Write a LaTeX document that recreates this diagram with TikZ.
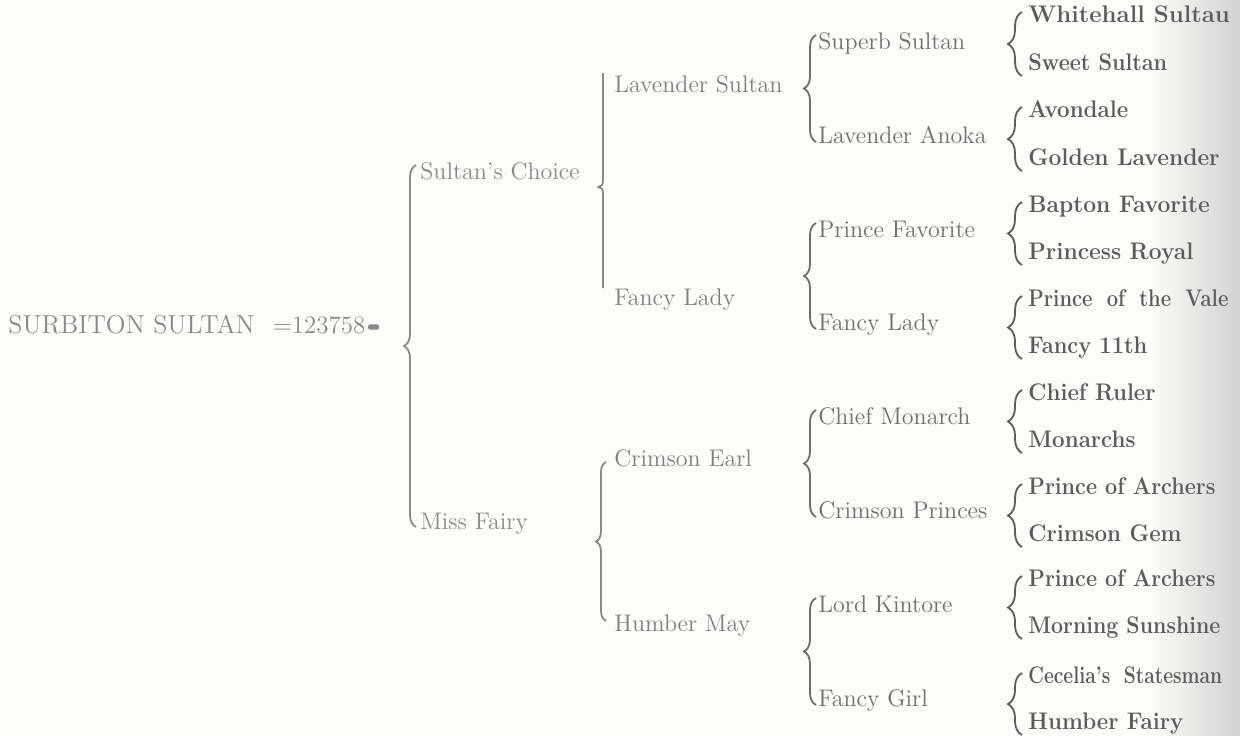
\documentclass[tikz,border=0pt]{standalone}
\usepackage{tikz}
\usepackage{graphicx}
\usepackage{xcolor}
\usetikzlibrary{positioning,decorations.pathreplacing,calc}
\definecolor{paper}{RGB}{252,252,250}
\definecolor{fadeink}{RGB}{138,138,138}
\definecolor{midink}{RGB}{110,110,110}
\definecolor{darkink}{RGB}{92,92,92}

\tikzset{
  kinname/.style={anchor=west,inner sep=0pt,text height=8.5pt,text depth=2.5pt,
    font=\fontsize{12}{14}\selectfont},
  genone/.style={kinname,text=fadeink},
  gentwo/.style={kinname,text=fadeink!92!black},
  genthree/.style={kinname,text=midink},
  genfour/.style={kinname,text=darkink,font=\fontsize{12}{14}\selectfont\bfseries},
  kinbrace/.style={decorate,decoration={brace,amplitude=#1},line width=0.9pt},
  kinbrace/.default=6pt,
  kinbar/.style={line width=0.9pt,line join=round}
}

\begin{document}
\begin{tikzpicture}[x=0.5pt,y=-0.5pt]
  % page
  \useasboundingbox (0,0) rectangle (1240,735);
  \fill[paper] (0,0) rectangle (1240,735);
  \shade[left color=paper,right color=gray!35] (1150,0) rectangle (1240,735);

  % root
  \node[kinname,text=fadeink,text height=9.5pt,text depth=3pt] (surbiton) at (8,327)
    {{\fontsize{13}{16}\selectfont SURBITON SULTAN}\hspace{9pt}{\fontsize{12.5}{15}\selectfont =123758}};
  \node[right=1pt of surbiton,fill=fadeink,minimum width=5.5pt,minimum height=2.6pt,
    inner sep=0pt,rounded corners=1pt] (tick) {};

  % first generation
  \node[genone] (choice) at (420,173) {Sultan's Choice};
  \node[genone] (fairy) at (420,523) {Miss Fairy};

  % second generation
  \node[gentwo] (lavsultan) at (614,86) {Lavender Sultan};
  \node[gentwo] (fancylady) at (614,299) {Fancy Lady};
  \node[gentwo] (crimearl) at (614,460) {Crimson Earl};
  \node[gentwo] (humbermay) at (614,625) {Humber May};

  % third generation
  \node[genthree] (superb) at (818,43) {Superb Sultan};
  \node[genthree] (anoka) at (818,137) {Lavender Anoka};
  \node[genthree] (princefav) at (818,231) {Prince Favorite};
  \node[genthree] (fancythree) at (818,324) {Fancy Lady};
  \node[genthree] (chiefmon) at (818,418) {Chief Monarch};
  \node[genthree] (crimprin) at (818,512) {Crimson Princes};
  \node[genthree] (kintore) at (818,606) {Lord Kintore};
  \node[genthree] (fancygirl) at (818,700) {Fancy Girl};

  % fourth generation
  \foreach \y/\nm/\sx/\txt in {16/whitehall/1/Whitehall Sultau, 64/sweet/.9/Sweet Sultan,
      111/avondale/.93/Avondale, 159/golden/.95/Golden Lavender,
      206/bapton/.95/Bapton Favorite, 253/royal/.95/Princess Royal,
      300/vale/.84/Prince\hspace{4pt} of\hspace{4pt} the\hspace{4pt} Vale, 347/eleventh/.91/Fancy 11th,
      394/ruler/.93/Chief Ruler, 441/monarchs/.93/Monarchs,
      488/archersa/.9/Prince of Archers, 535/gem/.93/Crimson Gem,
      580/archersb/.9/Prince of Archers, 627/sunshine/.89/Morning Sunshine,
      677/cecelia/.8/Cecelia's\hspace{4pt} Statesman, 723/humberfairy/.93/Humber Fairy}
    \node[genfour] (\nm) at (1028,\y) {\scalebox{\sx}[1]{\txt}};

  % braces of the first generation
  \draw[kinbrace,fadeink] ([xshift=-2pt,yshift=-2pt]fairy.west) -- ([xshift=-2pt,yshift=4pt]choice.west);

  % braces of the second generation
  \coordinate (bartop) at ([xshift=-5.5pt,yshift=6.5pt]lavsultan.west);
  \coordinate (barbot) at ([xshift=-5.5pt,yshift=5.5pt]fancylady.west);
  \coordinate (barmid) at ($(bartop)!.53!(barbot)$);
  \draw[kinbar,fadeink] (bartop) -- ([yshift=3pt]barmid)
    .. controls ([yshift=1pt]barmid) and ([xshift=-1pt]barmid) .. ([xshift=-2.5pt]barmid)
    .. controls ([xshift=-1pt]barmid) and ([yshift=-1pt]barmid) .. ([yshift=-3pt]barmid)
    -- (barbot);
  \draw[kinbrace=5pt,fadeink] ([xshift=-4pt,yshift=2pt]humbermay.west) -- ([xshift=-4pt,yshift=-1pt]crimearl.west);

  % braces of the third generation
  \foreach \up/\lo in {superb/anoka,princefav/fancythree,chiefmon/crimprin,kintore/fancygirl}
    \draw[kinbrace,midink] ([xshift=-1pt,yshift=-2.5pt]\lo.west) -- ([xshift=-1pt,yshift=4pt]\up.west);

  % braces of the fourth generation
  \foreach \up/\lo in {whitehall/sweet,avondale/golden,bapton/royal,vale/eleventh,
      ruler/monarchs,archersa/gem,archersb/sunshine,cecelia/humberfairy}
    \draw[kinbrace=7pt,darkink] ([xshift=-3pt,yshift=-6pt]\lo.west) -- ([xshift=-3pt,yshift=2pt]\up.west);
\end{tikzpicture}
\end{document}
